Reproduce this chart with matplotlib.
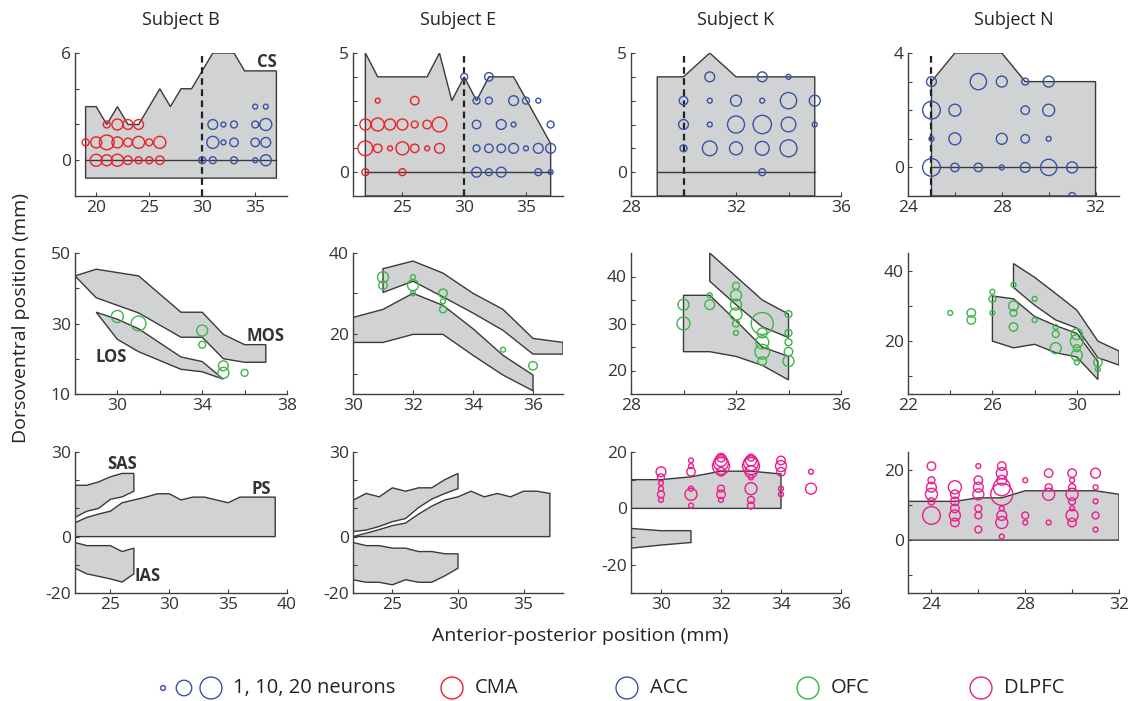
import matplotlib
matplotlib.use("Agg")
import matplotlib.pyplot as plt

plt.rcParams['font.family'] = ['Open Sans', 'DejaVu Sans']

# colours for the recording areas
col_cma = '#ED2024'
col_acc = '#3953A4'
col_ofc = '#3DB54A'
col_dlpfc = '#EC1C8C'
fill_grey = '#D1D2D4'
edge_dark = '#3A3A3A'

# ---------------- row 1: cingulate sulcus (x, y, neurons) ----------------
b_cs = [(19, -1), (19, 3), (20, 3), (21, 2), (22, 3), (23, 2), (24, 2), (26, 4), (27, 3),
        (28, 4), (29, 4), (31, 6), (33, 6), (34, 5), (37, 5), (37, -1)]
b_cma = [(21, 2, 2), (22, 2, 5), (23, 2, 4), (24, 2, 4),
         (19, 1, 2), (20, 1, 5), (21, 1, 9), (22, 1, 5), (23, 1, 3), (24, 1, 6), (25, 1, 2), (26, 1, 6),
         (20, 0, 6), (21, 0, 5), (22, 0, 6), (23, 0, 3), (24, 0, 2), (25, 0, 2), (26, 0, 3)]
b_acc = [(35, 3, 1), (36, 3, 1),
         (31, 2, 4), (32, 2, 1), (33, 2, 2), (35, 2, 2), (36, 2, 6),
         (31, 1, 6), (32, 1, 1), (33, 1, 3), (35, 1, 3), (36, 1, 4),
         (30, 0, 2), (31, 0, 2), (33, 0, 2), (35, 0, 1), (36, 0, 5)]

e_cs = [(22, -1), (22, 5), (23, 4), (27, 4), (28, 5), (29, 3), (30, 4), (31, 3), (32, 4),
        (34, 4), (37, 1.2), (37, -1)]
e_cma = [(23, 3, 1), (26, 3, 3),
         (22, 2, 5), (23, 2, 7), (24, 2, 5), (25, 2, 5), (26, 2, 2), (27, 2, 3), (28, 2, 9),
         (22, 1, 9), (23, 1, 3), (24, 1, 1), (25, 1, 7), (26, 1, 3), (27, 1, 1), (28, 1, 4),
         (22, 0, 2), (25, 0, 2)]
e_acc = [(30, 4, 2), (32, 4, 3),
         (31, 3, 2), (32, 3, 2), (34, 3, 4), (35, 3, 2), (36, 3, 1),
         (31, 2, 3), (33, 2, 4), (34, 2, 1), (37, 2, 2),
         (31, 1, 2), (32, 1, 3), (33, 1, 3), (34, 1, 4), (35, 1, 1), (36, 1, 4), (37, 1, 4),
         (31, 0, 4), (32, 0, 2), (33, 0, 4), (36, 0, 2), (37, 0, 1)]

k_cs = [(29, -1), (29, 4), (30, 4), (31, 5), (32, 4), (35, 4), (35, -1)]
k_acc = [(31, 4, 4), (33, 4, 4), (34, 4, 1),
         (30, 3, 3), (31, 3, 1), (32, 3, 5), (33, 3, 1), (34, 3, 11), (35, 3, 5),
         (30, 2, 4), (31, 2, 1), (32, 2, 12), (33, 2, 14), (34, 2, 9), (35, 2, 1),
         (30, 1, 2), (31, 1, 9), (32, 1, 7), (33, 1, 8), (34, 1, 12),
         (33, 0, 2)]

n_cs = [(25, -1), (25, 3), (26, 4), (28, 4), (29, 3), (32, 3), (32, -1)]
n_acc = [(25, 3, 4), (27, 3, 11), (28, 3, 5), (29, 3, 2), (30, 3, 5),
         (25, 2, 13), (26, 2, 6), (29, 2, 3), (30, 2, 6),
         (25, 1, 1), (26, 1, 6), (28, 1, 5), (29, 1, 3), (30, 1, 1),
         (25, 0, 13), (26, 0, 3), (27, 0, 3), (28, 0, 1), (29, 0, 4), (30, 0, 11), (31, 0, 5),
         (31, -1, 2)]

# ---------------- row 2: orbital sulci ----------------
b_mos = [(28, 43.5), (29, 45.4), (31, 43.5), (33, 33.2), (34, 33.2), (35, 26.9), (36, 24), (37, 24),
         (37, 19), (36, 19), (35, 20), (34, 26.1), (33, 26.1), (31, 33), (29, 37.3)]
b_los = [(29, 33.2), (30, 31.2), (31, 28.5), (32, 24.5), (33, 20.5), (34, 19.2), (35, 14.2),
         (34, 16.3), (33, 17), (32, 19.5), (31, 22), (30, 25.5)]
b_ofc = [(30, 32, 6), (31, 30, 9), (34, 28, 5), (34, 24, 2), (35, 18, 4), (35, 16, 5), (36, 16, 2)]

e_upper = [(31, 36.1), (32, 38), (33, 35), (34, 30), (35, 26), (36, 18.8), (37, 17.8),
           (37, 14.9), (36, 14.9), (35, 20.8), (34, 25.1), (33, 29.1), (32, 33), (31, 30.2)]
e_lower = [(30, 24), (31, 26), (32, 30), (33, 27), (34, 21.2), (35, 14.6), (36, 9.7),
           (36, 5.8), (35, 9.7), (34, 14.6), (33, 19.8), (32, 19.8), (31, 17.8), (30, 17.8)]
e_ofc = [(31, 34, 5), (31, 32, 3), (32, 34, 1), (32, 32, 5), (32, 30, 1), (33, 30, 3),
         (33, 28, 1), (33, 26, 2), (35, 16, 1), (36, 12, 3)]

k_upper = [(31, 45), (32, 40), (33, 35), (34, 32), (34, 27), (33, 29.3), (32, 34), (31, 39)]
k_lower = [(30, 36), (31, 36), (32, 30.6), (33, 25), (34, 23), (34, 18), (33, 21.1),
           (32, 23), (31, 24), (30, 24)]
k_ofc = [(30, 34, 5), (30, 30, 7), (31, 36, 1), (31, 34, 4), (32, 38, 2), (32, 36, 5),
         (32, 34, 5), (32, 32, 6), (32, 30, 2), (32, 28, 1), (33, 30, 20), (33, 28, 4),
         (33, 26, 7), (33, 24, 9), (33, 22, 3), (34, 32, 2), (34, 28, 2), (34, 26, 2),
         (34, 24, 3), (34, 22, 5)]

n_upper = [(27, 42), (28, 38.1), (29, 33.5), (30, 28.8), (31, 20), (32, 17.2),
           (32, 13.2), (31, 15.3), (30, 23.7), (29, 26), (28, 30.2), (27, 35.2)]
n_lower = [(26, 32.8), (27, 32), (28, 27), (29, 24.4), (30, 22.2), (31, 14.2),
           (31, 9.1), (30, 15.5), (29, 16.7), (28, 19.1), (27, 18.1), (26, 20)]
n_ofc = [(24, 28, 1), (25, 28, 3), (25, 26, 3), (26, 34, 1), (26, 32, 2), (26, 28, 1),
         (27, 36, 1), (27, 30, 4), (27, 28, 2), (27, 24, 3), (28, 32, 1), (28, 26, 1),
         (29, 24, 1), (29, 22, 2), (29, 18, 5), (30, 22, 5), (30, 20, 7), (30, 18, 2),
         (30, 16, 5), (30, 14, 1), (31, 14, 3), (31, 12, 1)]

# ---------------- row 3: principal and arcuate sulci ----------------
b_ps = [(22, 0), (22, 4.9), (23, 6.8), (24, 8), (25, 9), (26, 12), (27, 13), (28, 14), (29, 15.2),
        (30, 15.2), (31, 13), (32, 14), (33, 14), (34, 13), (35, 12), (36, 14), (39, 14), (39, 0)]
b_sas = [(22, 18.2), (23, 18.2), (24, 19.4), (25, 21.2), (26, 22.4), (27, 22.4), (27, 16.1),
         (26, 14.1), (25, 13.2), (24, 10), (23, 9), (22, 6.8)]
b_ias = [(22, -2.1), (23, -3.2), (25, -3.2), (26, -5.3), (27, -4.1), (27, -13.2), (26, -16.1),
         (25, -15), (23, -13.2), (22, -11.2)]

e_ps = [(22, 0), (23, 1.2), (24, 2.5), (25, 3.9), (26, 4.8), (27, 8), (28, 10.8), (29, 13),
        (30, 14.1), (31, 16.1), (32, 14.1), (33, 15.3), (34, 14.1), (35, 16.1), (36, 16.1),
        (37, 15.3), (37, 0)]
e_sas = [(22, 12.9), (23, 15.3), (24, 14.1), (25, 17.3), (26, 16.1), (27, 17.3), (28, 17.3),
         (29, 20.2), (30, 22.4), (30, 17), (29, 15.3), (28, 13.3), (27, 10.3), (26, 6.4),
         (25, 5.3), (24, 3.6), (23, 2.3), (22, 1.8)]
e_ias = [(22, -2.1), (23, -3.2), (24, -3.2), (25, -4.1), (26, -4.1), (27, -5.3), (28, -5.3),
         (29, -6.1), (30, -6.1), (30, -11.2), (29, -13.9), (28, -16.2), (27, -16.2),
         (26, -15.3), (25, -17.1), (24, -16.2), (23, -16.2), (22, -15.3)]

k_ps = [(29, 0), (29, 10.2), (30, 10.2), (31, 11.2), (32, 13.2), (33, 13.2), (34, 12.2), (34, 0)]
k_ias = [(29, -7.1), (30, -7.9), (31, -7.9), (31, -12.1), (30, -13), (29, -14.1)]
k_dlpfc = [(30, 13, 4), (30, 11, 2), (30, 9, 1), (30, 7, 1), (30, 5, 2), (30, 3, 1),
           (31, 17, 1), (31, 15, 1), (31, 13, 3), (31, 7, 1), (31, 5, 6), (31, 1, 1),
           (32, 18, 3), (32, 17, 6), (32, 16, 9), (32, 15, 12), (32, 13, 3), (32, 7, 2),
           (32, 5, 3), (32, 3, 1),
           (33, 18, 2), (33, 17, 5), (33, 16, 9), (33, 15, 12), (33, 13, 6), (33, 11, 1),
           (33, 7, 6), (33, 3, 2), (33, 1, 2),
           (34, 17, 3), (34, 15, 5), (34, 13, 3), (34, 7, 1), (34, 5, 1),
           (35, 13, 1), (35, 7, 5)]

n_ps = [(23, 0), (23, 11), (25, 11), (26, 12), (27, 12), (28, 14), (31, 14), (32, 13), (32, 0)]
n_dlpfc = [(24, 21, 3), (24, 17, 2), (24, 15, 4), (24, 13, 6), (24, 11, 2), (24, 7, 13),
           (25, 15, 7), (25, 13, 3), (25, 11, 3), (25, 9, 3), (25, 7, 5), (25, 5, 3),
           (26, 21, 1), (26, 17, 3), (26, 15, 4), (26, 13, 5), (26, 9, 2), (26, 7, 2), (26, 3, 2),
           (27, 21, 3), (27, 19, 5), (27, 17, 4), (27, 15, 12), (27, 13, 20), (27, 9, 1),
           (27, 7, 4), (27, 5, 6), (27, 1, 1),
           (28, 17, 1), (28, 7, 2), (28, 5, 1),
           (29, 19, 3), (29, 15, 2), (29, 13, 6), (29, 5, 1),
           (30, 19, 3), (30, 17, 1), (30, 15, 2), (30, 13, 6), (30, 11, 2), (30, 9, 1),
           (30, 7, 6), (30, 5, 3),
           (31, 19, 4), (31, 15, 1), (31, 11, 1), (31, 7, 2), (31, 3, 1)]

subjects = ['Subject B', 'Subject E', 'Subject K', 'Subject N']

SIZE_PER_NEURON = 12.5


def outline(ax, pts):
    xs = [p[0] for p in pts]
    ys = [p[1] for p in pts]
    ax.fill(xs, ys, facecolor=fill_grey, edgecolor=edge_dark, lw=1.0, zorder=1)


def dots(ax, pts, color):
    xs = [p[0] for p in pts]
    ys = [p[1] for p in pts]
    ss = [SIZE_PER_NEURON * p[2] for p in pts]
    ax.scatter(xs, ys, s=ss, facecolors='none', edgecolors=color, linewidths=1.0, zorder=3)


def style(ax, xlim, ylim, xticks, xlabels, yticks, ylabels):
    ax.set_xlim(*xlim)
    ax.set_ylim(*ylim)
    ax.set_xticks(xticks)
    ax.set_xticklabels(xlabels)
    ax.set_yticks(yticks)
    ax.set_yticklabels(ylabels)
    for s in ['top', 'right']:
        ax.spines[s].set_visible(False)
    for s in ['left', 'bottom']:
        ax.spines[s].set_color('#404040')
        ax.spines[s].set_linewidth(1.0)
    ax.tick_params(direction='in', length=3, width=0.8, color='#404040',
                   labelsize=12.5, labelcolor='#333333', pad=3)
    ax.patch.set_alpha(0)


def tag(ax, x, y, txt):
    ax.text(x, y, txt, fontsize=12, fontweight='bold', color='#333333',
            ha='center', va='center', zorder=4)


fig = plt.figure(figsize=(11.34, 7.01), dpi=100)
W, H = 1134.0, 701.0
lefts = [75, 353, 631, 908]
widths = [212, 210, 210, 211]
rows = [(53, 196), (253, 394), (452, 593)]

axes = []
for r, (top, bot) in enumerate(rows):
    line = []
    for c in range(4):
        a = fig.add_axes([lefts[c] / W, 1 - bot / H, widths[c] / W, (bot - top) / H])
        line.append(a)
    axes.append(line)

dash = (0, (3, 2))

# row 1
ax = axes[0][0]
outline(ax, b_cs)
ax.plot([19, 37], [0, 0], color=edge_dark, lw=1.0, zorder=2)
ax.plot([30, 30], [-2, 6], color='#222222', lw=1.6, ls=dash, zorder=2)
dots(ax, b_cma, col_cma)
dots(ax, b_acc, col_acc)
tag(ax, 36.1, 5.5, 'CS')
style(ax, (18, 38), (-2, 6), [20, 25, 30, 35], ['20', '25', '30', '35'],
      [0, 2, 4, 6], ['0', '', '', '6'])

ax = axes[0][1]
outline(ax, e_cs)
ax.plot([22, 37], [0, 0], color=edge_dark, lw=1.0, zorder=2)
ax.plot([30, 30], [-1, 5], color='#222222', lw=1.6, ls=dash, zorder=2)
dots(ax, e_cma, col_cma)
dots(ax, e_acc, col_acc)
style(ax, (21, 38), (-1, 5), [25, 30, 35], ['25', '30', '35'],
      [0, 1, 2, 3, 4, 5], ['0', '', '', '', '', '5'])

ax = axes[0][2]
outline(ax, k_cs)
ax.plot([29, 35], [0, 0], color=edge_dark, lw=1.0, zorder=2)
ax.plot([30, 30], [-1, 5], color='#222222', lw=1.6, ls=dash, zorder=2)
dots(ax, k_acc, col_acc)
style(ax, (28, 36), (-1, 5), [28, 30, 32, 34, 36], ['28', '', '32', '', '36'],
      [0, 1, 2, 3, 4, 5], ['0', '', '', '', '', '5'])

ax = axes[0][3]
outline(ax, n_cs)
ax.plot([25, 32], [0, 0], color=edge_dark, lw=1.0, zorder=2)
ax.plot([25, 25], [-1, 4], color='#222222', lw=1.6, ls=dash, zorder=2)
dots(ax, n_acc, col_acc)
style(ax, (24, 33), (-1, 4), [24, 26, 28, 30, 32], ['24', '', '28', '', '32'],
      [0, 1, 2, 3, 4], ['0', '', '', '', '4'])

# row 2
ax = axes[1][0]
outline(ax, b_mos)
outline(ax, b_los)
dots(ax, b_ofc, col_ofc)
tag(ax, 37.0, 26.5, 'MOS')
tag(ax, 29.7, 20.4, 'LOS')
style(ax, (28, 38), (10, 50), [28, 30, 32, 34, 36, 38], ['', '30', '', '34', '', '38'],
      [10, 20, 30, 40, 50], ['10', '', '30', '', '50'])

ax = axes[1][1]
outline(ax, e_upper)
outline(ax, e_lower)
dots(ax, e_ofc, col_ofc)
style(ax, (30, 37), (5, 40), [30, 32, 34, 36], ['30', '32', '34', '36'],
      [10, 20, 30, 40], ['', '20', '', '40'])

ax = axes[1][2]
outline(ax, k_upper)
outline(ax, k_lower)
dots(ax, k_ofc, col_ofc)
style(ax, (28, 36), (15, 45), [28, 30, 32, 34, 36], ['28', '', '32', '', '36'],
      [20, 25, 30, 35, 40], ['20', '', '30', '', '40'])

ax = axes[1][3]
outline(ax, n_upper)
outline(ax, n_lower)
dots(ax, n_ofc, col_ofc)
style(ax, (22, 32), (5, 45), [22, 24, 26, 28, 30, 32], ['22', '', '26', '', '30', ''],
      [10, 20, 30, 40], ['', '20', '', '40'])

# row 3
ax = axes[2][0]
outline(ax, b_ps)
outline(ax, b_sas)
outline(ax, b_ias)
tag(ax, 26.0, 25.9, 'SAS')
tag(ax, 37.8, 17.0, 'PS')
tag(ax, 28.2, -14.1, 'IAS')
style(ax, (22, 40), (-20, 30), [25, 30, 35, 40], ['25', '30', '35', '40'],
      [-20, -10, 0, 10, 20, 30], ['-20', '', '0', '', '', '30'])

ax = axes[2][1]
outline(ax, e_ps)
outline(ax, e_sas)
outline(ax, e_ias)
style(ax, (22, 38), (-20, 30), [25, 30, 35], ['25', '30', '35'],
      [-20, -10, 0, 10, 20, 30], ['-20', '', '0', '', '', '30'])

ax = axes[2][2]
outline(ax, k_ps)
outline(ax, k_ias)
dots(ax, k_dlpfc, col_dlpfc)
style(ax, (29, 36), (-30, 20), [30, 32, 34, 36], ['30', '32', '34', '36'],
      [-30, -20, -10, 0, 10, 20], ['', '-20', '', '0', '', '20'])

ax = axes[2][3]
outline(ax, n_ps)
dots(ax, n_dlpfc, col_dlpfc)
style(ax, (23, 32), (-15, 25), [24, 26, 28, 30, 32], ['24', '', '28', '', '32'],
      [-10, 0, 10, 20], ['', '0', '', '20'])

# column titles and shared axis labels
for c, name in enumerate(subjects):
    fig.text((lefts[c] + widths[c] / 2) / W, 1 - 20 / H, name, fontsize=13,
             color='#222222', ha='center', va='center')
fig.text(21 / W, 1 - 318 / H, 'Dorsoventral position (mm)', rotation=90, fontsize=14,
         color='#222222', ha='center', va='center')
fig.text(580 / W, 1 - 636 / H, 'Anterior-posterior position (mm)', fontsize=14,
         color='#222222', ha='center', va='center')

# size / colour key along the bottom
key = fig.add_axes([0, 0, 1, 40 / H])
key.set_xlim(0, W)
key.set_ylim(0, 40)
key.axis('off')
key_counts = [1, 10, 20]
key.scatter([163, 184, 211], [13, 13, 13], s=[SIZE_PER_NEURON * n for n in key_counts],
            facecolors='none', edgecolors=col_acc, linewidths=1.0, clip_on=False)
key.text(233, 13, '1, 10, 20 neurons', fontsize=14.5, color='#222222', va='center')
for xc, colr, lab in [(452, col_cma, 'CMA'), (627, col_acc, 'ACC'),
                      (808, col_ofc, 'OFC'), (981, col_dlpfc, 'DLPFC')]:
    key.scatter([xc], [13], s=SIZE_PER_NEURON * 20, facecolors='none', edgecolors=colr,
                linewidths=1.0, clip_on=False)
    key.text(xc + 23, 13, lab, fontsize=14.5, color='#222222', va='center')

fig.savefig('out.png', dpi=100)
